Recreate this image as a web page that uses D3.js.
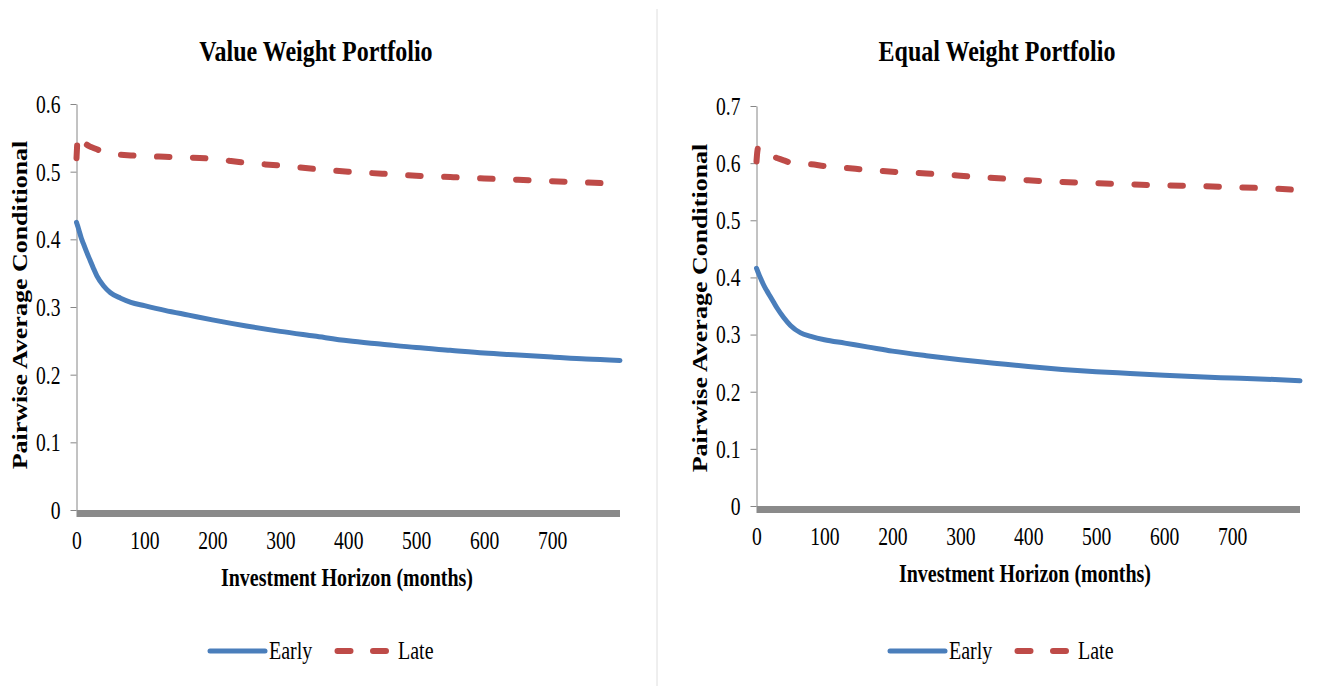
<!DOCTYPE html>
<html>
<head>
<meta charset="utf-8">
<script src="https://cdn.jsdelivr.net/npm/d3@7"></script>
<style>
  html, body { margin: 0; padding: 0; background: #fff; }
  svg { display: block; }
</style>
</head>
<body>
<svg id="chart" width="1327" height="686"></svg>
<script>
// Investment horizons (months) at which the conditional correlations are sampled
const horizons = [0, 1, 2, 4, 7, 10, 15, 20, 25, 30, 40, 50, 65, 80, 100, 130, 165, 200,
                  250, 300, 350, 400, 450, 500, 550, 600, 650, 700, 750, 800];

// Value weight portfolio
const valueEarly = [0.425, 0.422, 0.419, 0.412, 0.402, 0.394, 0.381, 0.369, 0.357, 0.346,
                    0.331, 0.321, 0.313, 0.307, 0.302, 0.295, 0.288, 0.281, 0.272, 0.264,
                    0.257, 0.250, 0.245, 0.240, 0.236, 0.232, 0.229, 0.226, 0.223, 0.221];
const valueLate  = [0.520, 0.540, 0.552, 0.554, 0.549, 0.545, 0.540, 0.537, 0.535, 0.533,
                    0.529, 0.526, 0.525, 0.524, 0.523, 0.522, 0.521, 0.519, 0.513, 0.509,
                    0.504, 0.500, 0.497, 0.494, 0.492, 0.490, 0.488, 0.486, 0.484, 0.482];

// Equal weight portfolio
const equalEarly = [0.416, 0.413, 0.410, 0.404, 0.396, 0.388, 0.377, 0.367, 0.357, 0.347,
                    0.330, 0.316, 0.303, 0.297, 0.291, 0.285, 0.278, 0.271, 0.263, 0.256,
                    0.250, 0.244, 0.239, 0.235, 0.232, 0.229, 0.226, 0.224, 0.222, 0.219];
const equalLate  = [0.603, 0.618, 0.626, 0.629, 0.625, 0.621, 0.617, 0.614, 0.611, 0.609,
                    0.605, 0.601, 0.599, 0.598, 0.595, 0.592, 0.588, 0.585, 0.582, 0.578,
                    0.574, 0.570, 0.567, 0.565, 0.563, 0.561, 0.560, 0.558, 0.556, 0.553];

const panelTitles = ["Value Weight Portfolio", "Equal Weight Portfolio"];
const seriesNames = ["Early", "Late"];
const yTicksValue = [0, 0.1, 0.2, 0.3, 0.4, 0.5, 0.6];
const yTicksEqual = [0, 0.1, 0.2, 0.3, 0.4, 0.5, 0.6, 0.7];
const xTicks = [0, 100, 200, 300, 400, 500, 600, 700];
const xMax = 800;
const xAxisTitle = "Investment Horizon (months)";
const yAxisTitle = "Pairwise Average Conditional";

// Styling
const FONT = "'Liberation Serif', 'Times New Roman', Times, serif";
const SX = 0.8;                 // narrow type, as in the printed figure
const BLUE = "#4a7ebb";
const RED = "#be4b48";
const AXIS_GRAY = "#868686";
const FLOOR_GRAY = "#8a8a8a";

const svg = d3.select("#chart").style("font-family", FONT);

// Thin divider between the two panels
svg.append("line")
  .attr("x1", 657).attr("x2", 657).attr("y1", 9).attr("y2", 686)
  .attr("stroke", "#dedede").attr("stroke-width", 1);

const panels = [
  { title: panelTitles[0], yTicks: yTicksValue, early: valueEarly, late: valueLate,
    left: 76.5, right: 620, top: 104, bottom: 510,
    titleX: 316, xTitleX: 347, yTitleX: 27, yTitleY: 305, legendX: 208 },
  { title: panelTitles[1], yTicks: yTicksEqual, early: equalEarly, late: equalLate,
    left: 756.5, right: 1300, top: 106, bottom: 506,
    titleX: 997, xTitleX: 1025, yTitleX: 707, yTitleY: 308, legendX: 888 }
];

function narrowText(sel, x, y, rotate) {
  return sel.attr("transform",
    `translate(${x},${y}) scale(${SX},1)` + (rotate ? ` rotate(${rotate})` : ""));
}

const fmtTick = d => d === 0 ? "0" : d.toFixed(1);

panels.forEach(p => {
  const g = svg.append("g");
  const yMax = p.yTicks[p.yTicks.length - 1];
  const x = d3.scaleLinear().domain([0, xMax]).range([p.left, p.right]);
  const y = d3.scaleLinear().domain([0, yMax]).range([p.bottom, p.top]);

  // Title
  narrowText(g.append("text"), p.titleX, 61)
    .attr("text-anchor", "middle").attr("font-weight", "bold")
    .attr("font-size", 30).text(p.title);

  // Grey floor along the zero line
  g.append("rect")
    .attr("x", x(0)).attr("y", y(0))
    .attr("width", x(xMax) - x(0)).attr("height", 7)
    .attr("fill", FLOOR_GRAY);

  // Y axis
  const yAxis = g.append("g")
    .attr("transform", `translate(${p.left},0)`)
    .call(d3.axisLeft(y).tickValues(p.yTicks).tickFormat(fmtTick)
      .tickSize(6).tickSizeOuter(0));
  yAxis.select(".domain").attr("stroke", AXIS_GRAY);
  yAxis.selectAll(".tick line").attr("stroke", AXIS_GRAY);
  yAxis.selectAll(".tick text")
    .attr("x", null).attr("dy", "0.34em")
    .attr("font-size", 24.5).attr("font-family", FONT).attr("fill", "#000")
    .attr("transform", `translate(-16,0) scale(${SX},1)`);

  // X axis (labels only; the grey floor acts as the axis line)
  const xAxis = g.append("g")
    .attr("transform", `translate(0,${p.bottom})`)
    .call(d3.axisBottom(x).tickValues(xTicks).tickSize(0).tickPadding(22));
  xAxis.select(".domain").remove();
  xAxis.selectAll(".tick text")
    .attr("y", null).attr("dy", null)
    .attr("font-size", 24.5).attr("font-family", FONT).attr("fill", "#000")
    .attr("transform", `translate(0,39) scale(${SX},1)`);

  // Axis titles
  narrowText(g.append("text"), p.xTitleX, p.bottom + 76)
    .attr("text-anchor", "middle").attr("font-weight", "bold")
    .attr("font-size", 25).text(xAxisTitle);
  narrowText(g.append("text"), p.yTitleX, p.yTitleY, -90)
    .attr("text-anchor", "middle").attr("font-weight", "bold")
    .attr("font-size", 26).text(yAxisTitle);

  // Series
  const line = d3.line()
    .x((d, i) => x(horizons[i]))
    .y(d => y(d))
    .curve(d3.curveMonotoneX);

  g.append("path").datum(p.early)
    .attr("d", line).attr("fill", "none")
    .attr("stroke", BLUE).attr("stroke-width", 5)
    .attr("stroke-linejoin", "round").attr("stroke-linecap", "round");

  g.append("path").datum(p.late)
    .attr("d", line).attr("fill", "none")
    .attr("stroke", RED).attr("stroke-width", 6)
    .attr("stroke-dasharray", "12.5,23.5")
    .attr("stroke-linejoin", "round").attr("stroke-linecap", "round");

  // Legend
  const lg = g.append("g").attr("transform", `translate(${p.legendX},651)`);
  lg.append("line").attr("x1", 2).attr("x2", 57).attr("y1", 0).attr("y2", 0)
    .attr("stroke", BLUE).attr("stroke-width", 5).attr("stroke-linecap", "round");
  narrowText(lg.append("text"), 61, 8).attr("font-size", 25).text(seriesNames[0]);
  lg.append("line").attr("x1", 129.5).attr("x2", 184).attr("y1", 0).attr("y2", 0)
    .attr("stroke", RED).attr("stroke-width", 6).attr("stroke-linecap", "round")
    .attr("stroke-dasharray", "13,22.5");
  narrowText(lg.append("text"), 190, 8).attr("font-size", 25).text(seriesNames[1]);
});
</script>
</body>
</html>
